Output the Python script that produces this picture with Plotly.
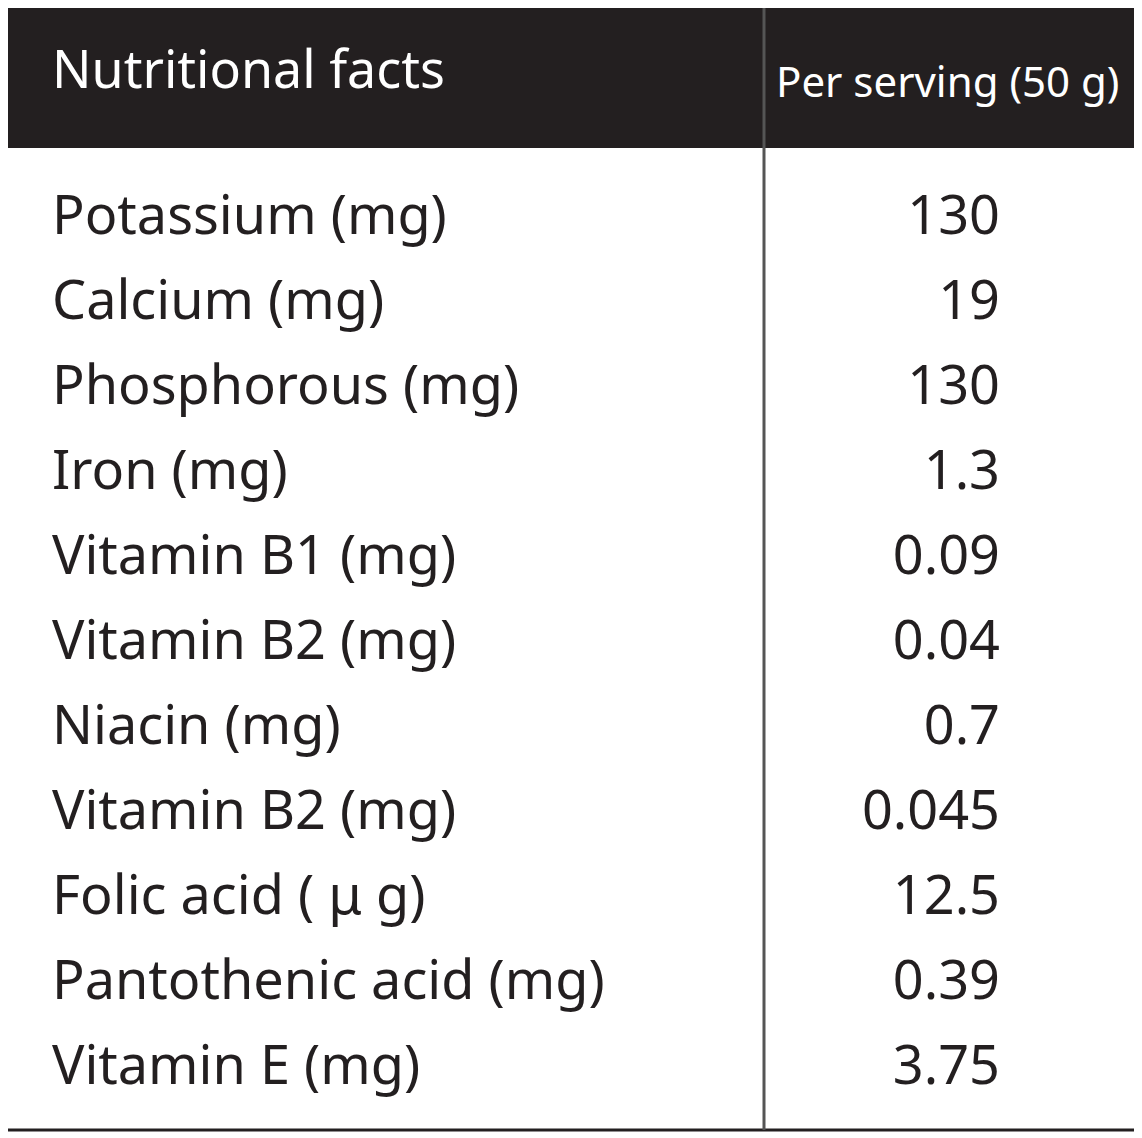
import plotly.graph_objects as go

header_left = "Nutritional facts"
header_right = "Per serving (50 g)"
nutrients = ["Potassium (mg)", "Calcium (mg)", "Phosphorous (mg)", "Iron (mg)",
             "Vitamin B1 (mg)", "Vitamin B2 (mg)", "Niacin (mg)", "Vitamin B2 (mg)",
             "Folic acid ( μ g)", "Pantothenic acid (mg)", "Vitamin E (mg)"]
values = ["130", "19", "130", "1.3", "0.09", "0.04", "0.7", "0.045", "12.5", "0.39", "3.75"]

W, H = 1142, 1138
OFF = 8  # page body margin
font = "Noto Sans"
row0, step = 220, 85
rows_y = [row0 + i * step for i in range(len(nutrients))]

fig = go.Figure()
fig.add_trace(go.Scatter(x=[52] * len(nutrients), y=rows_y, text=nutrients, mode="text",
                         textposition="middle right",
                         textfont=dict(family=font, size=54, color="#231f20"),
                         hoverinfo="skip"))
fig.add_trace(go.Scatter(x=[1000] * len(values), y=rows_y, text=values, mode="text",
                         textposition="middle left",
                         textfont=dict(family=font, size=54, color="#231f20"),
                         hoverinfo="skip"))
fig.add_trace(go.Scatter(x=[52, 776], y=[75, 86], text=[header_left, header_right], mode="text",
                         textposition="middle right",
                         textfont=dict(family=font, size=[52, 42], color="white"),
                         hoverinfo="skip"))

fig.add_shape(type="rect", x0=4, x1=1138, y0=6, y1=148, fillcolor="#231f20",
              line=dict(width=0), layer="below")
fig.add_shape(type="rect", x0=4, x1=1138, y0=6, y1=1130, line=dict(color="#231f20", width=3),
              fillcolor="rgba(0,0,0,0)")
fig.add_shape(type="line", x0=764, x1=764, y0=6, y1=1130, line=dict(color="#555", width=3))

fig.update_layout(width=W - OFF, height=H - OFF, margin=dict(l=0, r=0, t=0, b=0),
                  paper_bgcolor="white", plot_bgcolor="white", showlegend=False,
                  xaxis=dict(range=[OFF, W], visible=False, fixedrange=True),
                  yaxis=dict(range=[H, OFF], visible=False, fixedrange=True))
fig.write_html("out.html")
